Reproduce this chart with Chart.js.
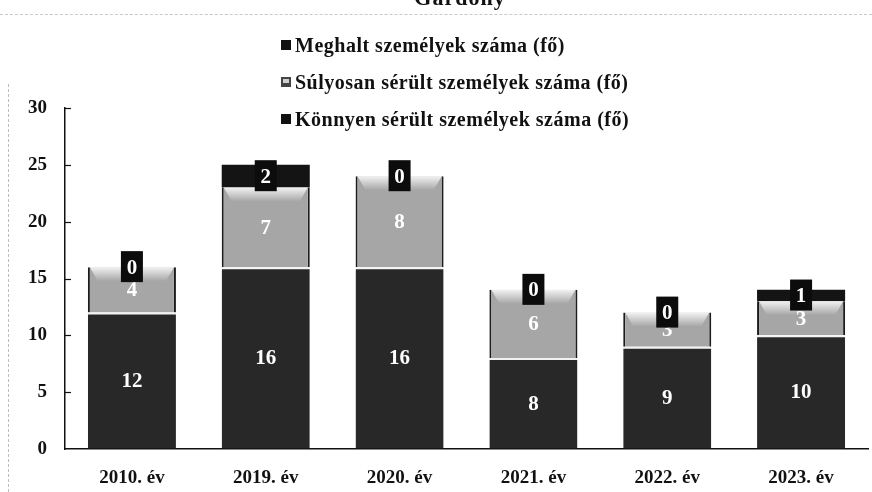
<!DOCTYPE html>
<html>
<head>
<meta charset="utf-8">
<script src="https://cdn.jsdelivr.net/npm/chart.js@4"></script>
<style>
  html, body { margin: 0; padding: 0; background: #fff; }
  #wrap { position: relative; width: 872px; height: 492px; overflow: hidden; font-family: "Liberation Serif", "Times New Roman", serif; }
  #chart { position: absolute; left: 0; top: 0; }
  .title { position: absolute; left: 0; width: 920px; top: -15px; text-align: center; font-weight: bold; font-size: 22px; color: #111; letter-spacing: 1px; }
  .scanline { position: absolute; left: 0; top: 14px; width: 872px; border-top: 1px dashed #c8c8c8; }
  .scanedge { position: absolute; left: 8px; top: 84px; height: 408px; border-left: 1px dashed #bdbdbd; }
  .legend { position: absolute; left: 281px; top: 30px; font-weight: bold; font-size: 20px; color: #111; letter-spacing: 0.5px; }
  .legend div { height: 37px; line-height: 30px; white-space: nowrap; }
  .legend span.box { display: inline-block; width: 10px; height: 10px; margin-right: 4px; vertical-align: 2px; background: #111; }
  .legend span.box.gray { background: #444; background-image: linear-gradient(#d0d0d0, #d0d0d0); background-size: 6px 4px; background-repeat: no-repeat; background-position: 2px 2px; }
</style>
</head>
<body>
<div id="wrap">
  <canvas id="chart" width="872" height="492"></canvas>
  <div class="scanline"></div>
  <div class="scanedge"></div>
  <div class="title">Gárdony</div>
  <div class="legend">
    <div><span class="box"></span>Meghalt személyek száma (fő)</div>
    <div><span class="box gray"></span>Súlyosan sérült személyek száma (fő)</div>
    <div><span class="box"></span>Könnyen sérült személyek száma (fő)</div>
  </div>
</div>
<script>
const categories = ['2010. év', '2019. év', '2020. év', '2021. év', '2022. év', '2023. év'];
const konnyen = [12, 16, 16, 8, 9, 10];
const sulyosan = [4, 7, 8, 6, 3, 3];
const meghalt = [0, 2, 0, 0, 0, 1];
const yTicks = [0, 5, 10, 15, 20, 25, 30];

const serif = '"Liberation Serif", "Times New Roman", serif';

// short tick marks pointing into the plot from the y axis
const innerTicks = {
  id: 'innerTicks',
  afterDraw(chart) {
    const y = chart.scales.y;
    const ctx = chart.ctx;
    ctx.save();
    ctx.strokeStyle = '#111';
    ctx.lineWidth = 1.2;
    yTicks.slice(1).forEach(v => {
      const py = Math.round(y.getPixelForValue(v)) + 0.5;
      ctx.beginPath();
      ctx.moveTo(y.right, py);
      ctx.lineTo(y.right + 6, py);
      ctx.stroke();
    });
    ctx.restore();
  }
};

// light bevel along the top of the gray segments, then the value labels
const segmentLabels = {
  id: 'segmentLabels',
  afterDatasetsDraw(chart) {
    const ctx = chart.ctx;
    ctx.save();
    chart.getDatasetMeta(1).data.forEach(bar => {
      const w = bar.width;
      const g = ctx.createLinearGradient(0, bar.y, 0, bar.y + 14);
      g.addColorStop(0, 'rgba(255,255,255,0.85)');
      g.addColorStop(1, 'rgba(255,255,255,0)');
      ctx.fillStyle = g;
      ctx.beginPath();
      ctx.moveTo(bar.x - w / 2 + 2, bar.y);
      ctx.lineTo(bar.x + w / 2 - 2, bar.y);
      ctx.lineTo(bar.x + w / 2 - 10, bar.y + 14);
      ctx.lineTo(bar.x - w / 2 + 10, bar.y + 14);
      ctx.closePath();
      ctx.fill();
    });

    ctx.font = 'bold 21px ' + serif;
    ctx.textAlign = 'center';
    ctx.textBaseline = 'middle';
    chart.data.datasets.forEach((ds, di) => {
      const meta = chart.getDatasetMeta(di);
      meta.data.forEach((bar, i) => {
        const v = ds.data[i];
        const cy = (bar.y + bar.base) / 2;
        if (di === 2) {
          ctx.fillStyle = '#0c0c0c';
          ctx.fillRect(bar.x - 11, cy - 16, 22, 31);
        }
        ctx.fillStyle = '#ffffff';
        ctx.fillText(String(v), bar.x, cy + 1);
      });
    });
    ctx.restore();
  }
};

new Chart(document.getElementById('chart'), {
  type: 'bar',
  data: {
    labels: categories,
    datasets: [
      {
        label: 'Könnyen sérült személyek száma (fő)',
        data: konnyen,
        backgroundColor: '#282828',
        borderColor: '#f2f2f2',
        borderWidth: { top: 2, left: 0, right: 0, bottom: 0 },
        borderSkipped: false
      },
      {
        label: 'Súlyosan sérült személyek száma (fő)',
        data: sulyosan,
        backgroundColor: '#a6a6a6',
        borderColor: '#1c1c1c',
        borderWidth: { top: 0, left: 2, right: 2, bottom: 0 },
        borderSkipped: false
      },
      {
        label: 'Meghalt személyek száma (fő)',
        data: meghalt,
        backgroundColor: '#141414',
        borderWidth: 0
      }
    ]
  },
  options: {
    responsive: false,
    animation: false,
    barPercentage: 0.658,
    categoryPercentage: 1,
    layout: { padding: { left: 27, right: 4, top: 108, bottom: 2 } },
    plugins: {
      legend: { display: false },
      title: { display: false },
      tooltip: { enabled: false }
    },
    scales: {
      x: {
        stacked: true,
        afterFit(axis) { axis.height = 41; },
        grid: { display: false },
        border: { display: true, color: '#111', width: 1.5 },
        ticks: { color: '#111', padding: 10, font: { family: serif, size: 19, weight: 'bold' } }
      },
      y: {
        stacked: true,
        min: 0,
        max: 30,
        afterFit(axis) { axis.width = 38; },
        afterBuildTicks(axis) { axis.ticks = yTicks.map(v => ({ value: v })); },
        grid: { drawOnChartArea: false, drawTicks: false },
        border: { display: true, color: '#111', width: 1.5 },
        ticks: { color: '#111', padding: 18, font: { family: serif, size: 19, weight: 'bold' } }
      }
    }
  },
  plugins: [segmentLabels, innerTicks]
});
</script>
</body>
</html>
